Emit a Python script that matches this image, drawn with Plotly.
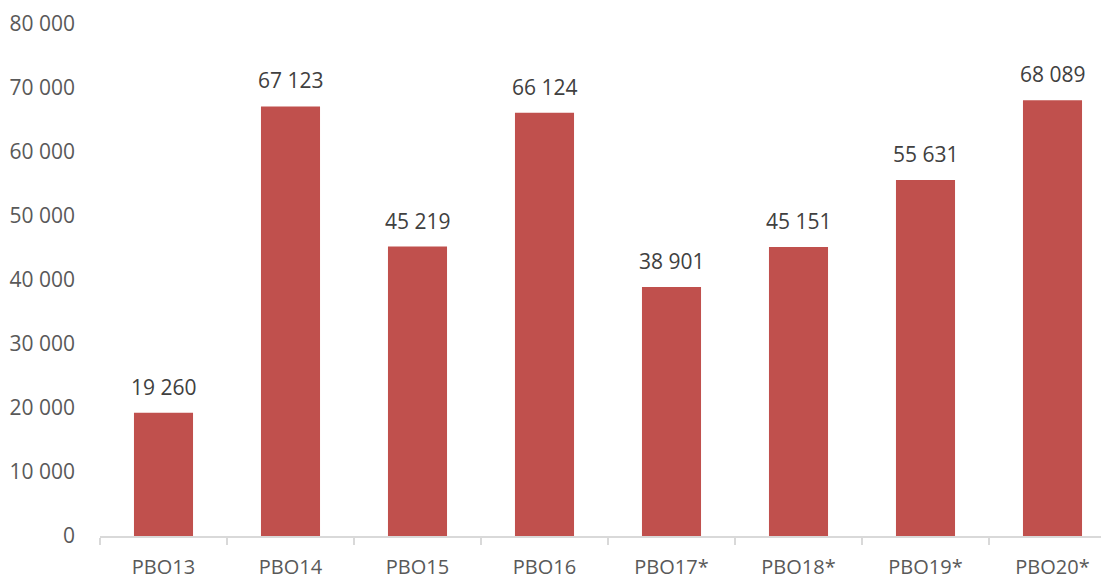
import plotly.graph_objects as go

categories = ["PBO13", "PBO14", "PBO15", "PBO16", "PBO17*", "PBO18*", "PBO19*", "PBO20*"]
values = [19260, 67123, 45219, 66124, 38901, 45151, 55631, 68089]
labels = ["19 260", "67 123", "45 219", "66 124", "38 901", "45 151", "55 631", "68 089"]
y_ticks = [0, 10000, 20000, 30000, 40000, 50000, 60000, 70000, 80000]
y_tick_text = ["0", "10 000", "20 000", "30 000", "40 000", "50 000", "60 000", "70 000", "80 000"]

FONT = "Open Sans, Liberation Sans, sans-serif"

fig = go.Figure()
fig.add_trace(go.Bar(
    x=categories, y=values,
    marker=dict(color="#C0504D", line=dict(width=0)),
    width=0.465,
    hoverinfo="skip",
))

for c, v, t in zip(categories, values, labels):
    fig.add_annotation(x=c, y=v, text=t, showarrow=False, yanchor="bottom",
                       yshift=10, font=dict(family=FONT, size=21, color="#404040"))

fig.update_layout(
    width=1109, height=579,
    margin=dict(l=92, r=1, t=16, b=51),
    paper_bgcolor="white", plot_bgcolor="white",
    showlegend=False,
    bargap=0.5,
)
fig.update_xaxes(
    range=[-0.5, 7.5], automargin=False,
    showline=True, linecolor="#D9D9D9", linewidth=2,
    ticks="outside", tickson="boundaries", ticklen=7, tickcolor="#D9D9D9", tickwidth=2,
    ticklabelstandoff=12,
    tickfont=dict(family=FONT, size=20, color="#595959"),
    showgrid=False, zeroline=False,
)
fig.update_yaxes(
    range=[0, 80000], automargin=False,
    tickvals=y_ticks, ticktext=y_tick_text,
    showgrid=False, zeroline=False, showline=False,
    ticks="", ticklabelstandoff=24,
    tickfont=dict(family=FONT, size=21, color="#595959"),
)

fig.write_html("out.html")
